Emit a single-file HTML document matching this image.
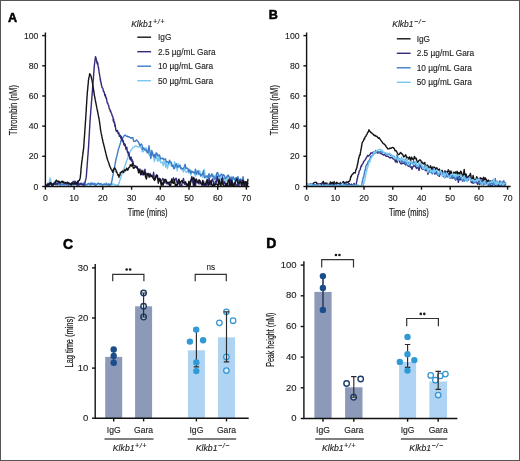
<!DOCTYPE html>
<html><head><meta charset="utf-8"><style>
html,body{margin:0;padding:0;background:#fff;}
svg{display:block;will-change:transform;}
text{font-family:"Liberation Sans",sans-serif;fill:#222;stroke:#222;stroke-width:0.12;}
.ax{stroke:#111;stroke-width:1.4;fill:none;}
.cv path{fill:none;stroke-width:1.4;stroke-linejoin:round;}
.cond{stroke:#1a1a1a;stroke-width:0.18;fill:#1a1a1a;}
</style></head><body>
<svg width="520" height="461" viewBox="0 0 520 461">
<rect x="0.5" y="0.5" width="519" height="460" fill="#fff" stroke="#555" stroke-width="1"/>

<text x="7.9" y="21.6" font-size="12.6" font-weight="bold" style="fill:#000;stroke:#000;stroke-width:0.5">A</text>
<text x="268.7" y="19.0" font-size="12.6" font-weight="bold" style="fill:#000;stroke:#000;stroke-width:0.5">B</text>
<text x="62.9" y="248.7" font-size="14" font-weight="bold" style="fill:#000;stroke:#000;stroke-width:0.5">C</text>
<text x="266.2" y="248.2" font-size="14" font-weight="bold" style="fill:#000;stroke:#000;stroke-width:0.5">D</text>
<g class="cv"><path d="M45.8,185.5 46.8,185.3 47.8,184.7 48.8,184.3 49.0,183.3 49.2,182.6 49.4,181.4 49.6,180.4 49.8,179.8 50.0,178.8 50.2,177.9 50.4,178.5 50.6,179.6 50.8,180.4 50.9,181.0 51.1,182.3 51.3,183.2 51.5,184.5 53.0,183.5 53.7,182.8 54.3,182.4 55.0,181.5 55.7,182.4 56.3,183.0 57.0,183.8 57.9,184.0 58.8,184.3 59.7,183.9 60.6,183.1 61.6,184.2 62.5,183.9 63.4,184.4 64.3,184.1 65.2,184.7 66.1,183.9 67.0,184.1 67.9,184.4 68.8,183.2 69.7,183.7 70.7,183.7 71.6,185.4 72.5,184.0 73.4,184.5 74.3,184.5 75.2,183.9 76.1,183.0 77.0,184.8 77.9,183.9 78.9,184.7 79.8,183.3 80.7,183.9 81.6,185.1 82.5,185.2 83.4,183.3 84.3,183.3 85.2,184.2 86.1,184.8 87.0,184.4 88.0,184.5 88.9,183.6 89.8,184.7 90.7,185.1 91.6,184.1 92.5,183.4 93.4,183.9 94.3,184.9 95.2,183.2 96.1,184.4 97.1,183.8 98.0,184.4 98.9,184.3 99.8,184.5 100.7,185.6 101.6,184.8 102.5,185.5 103.4,184.5 104.3,184.2 105.3,184.9 106.2,182.6 107.1,184.6 108.0,184.7 108.9,183.8 109.8,185.0 110.7,184.3 111.6,183.0 112.5,184.6 113.4,184.0 114.4,184.4 115.3,184.6 116.2,185.6 117.1,184.9 118.0,184.8 118.4,185.4 118.7,183.8 119.0,183.9 119.2,182.2 119.5,181.8 119.8,180.4 120.1,179.5 120.4,178.8 120.6,178.6 120.9,177.3 121.2,176.0 121.5,175.2 121.9,174.0 122.2,173.5 122.5,172.4 122.8,171.9 123.2,170.3 123.5,169.7 123.8,168.7 124.2,167.8 124.5,167.3 124.8,166.2 125.1,165.5 125.5,164.7 125.8,163.8 126.1,162.1 126.4,161.8 126.7,160.2 127.1,159.8 127.4,159.5 127.7,157.9 128.0,157.0 128.3,156.3 128.7,155.3 129.0,154.4 129.3,153.3 129.7,152.9 130.0,152.0 130.3,150.7 131.0,150.1 131.6,149.3 132.2,148.6 132.9,147.6 133.8,147.3 134.6,146.6 135.5,145.9 136.5,146.2 137.4,146.9 138.4,147.0 139.4,146.9 140.4,146.2 141.4,148.5 142.3,151.7 143.3,151.5 144.2,148.0 145.1,149.9 146.0,147.7 146.8,148.8 147.5,152.0 148.3,152.2 149.0,154.6 149.8,155.7 150.6,155.3 151.3,156.8 152.1,153.6 152.8,152.9 153.6,156.7 154.4,161.6 155.2,157.5 156.0,155.0 156.8,158.3 157.6,161.2 158.4,156.8 159.2,160.9 160.1,158.6 160.9,162.9 161.7,162.5 162.5,162.0 163.3,165.9 164.1,161.6 164.9,161.6 165.7,167.2 166.6,162.0 167.5,168.5 168.4,164.3 169.3,162.6 170.2,165.0 171.1,165.5 171.9,165.9 172.8,165.5 173.7,168.3 174.6,161.8 175.5,165.6 176.4,166.5 177.3,170.9 178.2,163.6 179.0,167.2 179.9,165.8 180.8,167.1 181.7,169.9 182.5,169.7 183.4,172.1 184.3,168.3 185.1,170.3 186.0,172.3 187.0,172.1 187.9,169.9 188.9,173.1 189.8,169.3 190.8,175.0 191.7,172.0 192.7,171.7 193.6,172.8 194.6,174.2 195.5,176.2 196.3,172.7 197.2,172.5 198.1,174.7 198.9,172.1 199.8,170.7 200.7,176.0 201.6,173.8 202.4,177.1 203.3,173.0 204.3,169.5 205.2,176.1 206.2,176.0 207.1,179.1 208.1,177.2 209.0,176.9 210.0,177.7 210.9,176.0 211.9,177.1 212.9,174.3 213.8,178.1 214.8,175.6 215.8,176.4 216.7,178.7 217.7,179.3 218.7,175.5 219.6,181.6 220.6,176.5 221.6,179.5 222.5,179.8 223.5,178.4 224.4,178.4 225.4,181.8 226.3,180.1 227.3,179.3 228.2,174.9 229.2,177.1 230.2,181.1 231.1,179.4 232.1,177.3 233.1,178.1 234.0,178.9 235.0,181.1 236.0,180.7 236.9,182.1 237.9,178.7 238.8,182.5 239.6,179.8 240.5,180.4 241.4,184.7 242.2,181.7 243.1,181.5 244.0,181.6 244.8,181.5 245.7,185.6" stroke="#78c8f0" />
<path d="M45.8,186.0 46.7,184.3 47.6,185.1 48.5,184.9 49.4,185.4 50.3,183.8 51.2,184.5 52.1,184.2 53.0,184.0 53.9,184.1 54.8,184.4 55.7,184.5 56.7,184.1 57.6,185.0 58.5,184.3 59.4,182.5 60.3,185.5 61.2,184.4 62.1,184.2 63.0,184.9 63.9,184.8 64.8,184.7 65.7,184.0 66.6,184.8 67.5,183.6 68.4,185.6 69.3,183.7 70.2,184.5 71.1,184.6 72.0,184.7 72.9,184.4 73.8,184.9 74.7,182.0 75.6,184.4 76.5,184.4 77.4,184.2 78.4,185.5 79.3,183.8 80.2,184.4 81.1,183.0 82.0,184.6 82.9,183.3 83.8,183.3 84.7,186.0 85.6,184.9 86.5,184.4 87.4,184.5 88.3,183.4 89.2,183.6 90.1,184.7 91.0,182.9 91.9,184.5 92.8,183.1 93.7,184.4 94.6,183.5 95.5,185.6 96.4,185.0 97.3,183.9 98.2,183.0 99.1,183.7 100.1,184.2 101.0,183.6 101.9,184.5 102.8,185.0 103.7,184.2 104.6,183.9 105.5,184.8 106.4,184.0 107.3,184.8 108.2,184.0 109.1,185.4 110.0,184.2 111.0,184.8 111.2,184.1 111.5,182.8 111.7,181.7 111.9,180.9 112.1,180.2 112.3,178.3 112.4,177.9 112.6,176.9 112.8,175.9 113.0,175.2 113.2,173.7 113.3,173.4 113.5,172.2 113.7,171.5 113.8,170.5 114.0,169.6 114.2,168.6 114.3,168.0 114.5,167.6 114.7,166.4 114.9,165.5 115.0,164.5 115.2,163.3 115.4,162.8 115.5,162.3 115.7,160.4 115.9,160.2 116.0,159.4 116.2,158.3 116.4,157.5 116.7,156.8 116.9,156.1 117.1,154.9 117.3,154.1 117.6,152.8 117.8,152.0 118.0,150.9 118.3,150.0 118.5,148.8 118.8,148.3 119.1,147.6 119.3,146.2 119.6,145.5 119.9,144.7 120.2,143.6 120.5,143.0 120.7,141.9 121.0,140.5 121.3,139.7 121.9,139.2 122.4,138.2 123.0,137.3 123.8,136.2 124.6,135.3 125.5,135.2 126.4,136.4 127.2,136.1 128.1,137.0 129.0,136.7 130.0,137.4 130.9,138.3 131.9,137.7 132.9,137.6 133.7,141.4 134.5,141.4 135.2,141.4 136.0,140.4 136.8,140.0 137.6,141.3 138.4,141.9 139.1,143.5 139.9,145.8 140.7,144.5 141.3,143.9 142.0,144.9 142.6,149.4 143.3,147.8 143.9,148.6 144.6,149.3 145.5,150.5 146.4,150.1 147.2,152.8 148.1,152.6 149.0,145.8 149.9,151.7 150.8,158.5 151.8,150.5 152.7,153.9 153.6,156.4 154.4,154.6 155.3,157.7 156.1,152.9 157.0,153.4 157.8,155.9 158.7,155.2 159.5,155.0 160.4,158.7 161.2,158.5 162.0,158.5 162.9,158.1 163.7,159.9 164.5,159.5 165.4,158.8 166.2,161.7 167.0,161.9 167.9,161.7 168.7,163.4 169.6,160.2 170.4,162.6 171.3,162.2 172.1,166.4 173.0,165.2 173.9,168.8 174.7,168.2 175.6,164.7 176.4,163.7 177.3,167.3 178.2,166.0 179.0,166.5 179.9,165.0 180.8,168.6 181.7,168.0 182.5,168.7 183.4,168.8 184.3,166.7 185.1,164.3 186.0,168.5 187.0,168.0 187.9,168.5 188.9,171.8 189.8,169.9 190.8,173.4 191.7,171.0 192.7,172.3 193.6,172.2 194.6,173.1 195.5,169.2 196.3,174.2 197.2,172.5 198.1,170.6 198.9,174.0 199.8,173.8 200.7,175.9 201.6,175.0 202.4,174.6 203.3,170.8 204.3,177.7 205.2,177.5 206.2,176.3 207.1,175.8 208.1,177.5 209.0,173.6 210.0,176.9 210.9,175.7 211.9,173.9 212.9,176.7 213.8,176.8 214.8,179.6 215.8,178.1 216.7,173.1 217.7,172.5 218.7,176.4 219.6,176.2 220.6,174.8 221.6,173.9 222.5,176.5 223.5,174.7 224.4,175.7 225.4,178.9 226.3,177.8 227.3,175.9 228.2,175.3 229.2,177.2 230.2,181.3 231.1,177.0 232.1,181.6 233.1,176.8 234.0,178.1 235.0,180.1 236.0,177.4 236.9,179.2 237.9,176.6 238.8,180.9 239.6,182.2 240.5,178.9 241.4,180.8 242.2,179.9 243.1,176.7 244.0,186.0 244.8,182.9 245.7,183.6" stroke="#3d7cc6" />
<path d="M45.8,185.6 46.9,186.0 48.0,183.3 49.0,185.6 50.0,183.7 51.0,183.5 52.0,186.0 53.0,183.6 54.0,183.2 55.0,183.9 55.9,184.5 56.8,183.1 57.7,183.9 58.6,182.0 59.5,182.8 60.5,182.8 61.4,181.6 62.3,181.5 63.2,181.4 64.1,183.2 65.0,183.4 65.9,183.2 66.8,183.8 67.7,182.0 68.6,183.6 69.5,184.1 70.5,184.8 71.4,182.8 72.3,183.4 73.2,181.3 74.1,183.3 75.0,181.1 76.0,182.2 77.0,185.4 78.0,181.1 79.0,185.0 80.0,184.4 81.0,183.6 82.0,184.6 82.9,184.5 83.9,185.0 84.8,183.5 85.0,182.5 85.2,181.5 85.4,180.5 85.7,179.7 85.9,178.6 86.1,177.9 86.3,176.5 86.4,175.7 86.4,174.8 86.5,173.7 86.6,173.4 86.6,171.9 86.7,171.3 86.8,170.3 86.8,169.7 86.9,168.3 87.0,167.8 87.1,166.6 87.1,165.8 87.2,164.8 87.3,164.1 87.3,162.9 87.4,162.1 87.5,161.3 87.5,160.6 87.6,159.0 87.7,158.7 87.7,157.7 87.8,156.6 87.9,155.8 88.0,154.8 88.0,154.2 88.1,153.0 88.2,152.0 88.2,151.1 88.3,150.2 88.4,149.3 88.4,148.3 88.5,147.8 88.6,146.3 88.6,145.1 88.7,144.7 88.7,143.8 88.8,143.0 88.8,142.0 88.9,141.1 88.9,140.2 89.0,139.4 89.0,138.3 89.1,137.4 89.1,136.8 89.2,135.7 89.2,134.5 89.3,134.1 89.4,132.9 89.4,131.8 89.5,130.8 89.5,130.1 89.6,129.0 89.6,128.1 89.7,127.1 89.7,126.3 89.8,125.7 89.8,124.5 89.9,123.4 89.9,122.9 90.0,121.8 90.0,121.0 90.1,120.2 90.2,119.1 90.2,118.2 90.3,117.3 90.4,116.2 90.5,115.6 90.5,114.8 90.6,113.7 90.7,112.8 90.7,111.9 90.8,110.9 90.9,110.0 90.9,109.1 91.0,108.2 91.1,107.3 91.2,106.3 91.2,105.7 91.3,104.7 91.4,103.6 91.4,102.6 91.5,102.0 91.6,101.3 91.7,100.1 91.7,99.2 91.8,98.3 91.9,97.6 91.9,96.5 92.0,95.8 92.1,94.8 92.1,94.0 92.2,93.0 92.3,92.1 92.4,91.0 92.4,90.2 92.5,89.4 92.6,88.6 92.6,87.6 92.7,86.6 92.8,85.9 92.8,85.0 92.9,84.0 93.0,83.0 93.1,82.1 93.1,81.4 93.2,80.5 93.3,79.3 93.4,78.6 93.4,77.5 93.5,76.5 93.6,75.8 93.7,74.8 93.7,73.6 93.8,72.8 93.9,71.9 94.0,70.8 94.0,69.9 94.1,69.1 94.2,67.8 94.2,67.1 94.3,66.3 94.4,65.3 94.5,64.0 94.6,63.3 94.8,62.2 94.9,61.4 95.0,60.5 95.1,59.4 95.3,58.3 95.4,57.4 95.5,56.6 95.8,57.2 96.0,58.5 96.2,59.4 96.5,59.8 96.8,62.3 97.0,61.8 97.2,63.9 97.5,62.3 97.8,63.0 98.0,65.8 98.1,66.5 98.3,66.8 98.4,67.9 98.6,67.6 98.7,69.3 98.9,69.9 99.0,71.3 99.2,72.9 99.3,73.3 99.5,74.4 99.6,74.6 99.8,75.7 99.9,76.9 100.1,77.5 100.2,79.4 100.4,79.0 100.5,81.5 100.7,80.8 101.0,82.9 101.2,82.8 101.4,85.2 101.6,85.2 101.8,86.3 102.1,87.5 102.3,87.6 102.7,88.3 103.0,88.7 103.4,91.5 103.8,91.3 104.2,92.3 104.5,93.6 104.9,95.8 105.3,94.5 105.6,96.5 105.8,97.0 106.1,98.4 106.4,97.9 106.7,99.6 106.9,101.2 107.2,102.5 107.5,103.4 107.7,102.8 108.0,104.2 108.3,105.0 108.6,105.1 108.8,106.0 109.1,108.2 109.5,108.8 109.9,109.4 110.2,111.2 110.6,110.7 111.0,112.6 111.4,113.2 111.8,114.0 112.1,115.7 112.5,116.1 112.9,117.2 113.1,118.1 113.3,121.3 113.6,119.0 113.8,121.8 114.0,122.1 114.2,121.7 114.5,124.2 114.7,122.7 114.9,126.5 115.1,124.6 115.3,125.9 115.6,128.0 115.8,129.6 116.0,130.6 116.5,131.4 117.0,130.6 117.5,130.4 118.0,133.3 118.4,133.8 118.9,132.8 119.4,136.4 119.9,136.1 120.3,135.3 120.8,138.2 121.2,136.5 121.6,138.0 122.1,140.7 122.5,138.8 122.9,141.9 123.4,140.8 123.8,144.6 124.2,143.4 124.7,145.6 125.1,144.1 125.5,146.6 126.0,149.3 126.4,149.4 126.8,147.1 127.3,151.8 127.7,152.6 128.1,151.8 128.4,155.3 128.8,152.7 129.2,155.1 129.6,157.7 129.9,158.9 130.3,159.8 130.7,157.3 131.2,157.2 131.6,161.1 132.0,159.5 132.5,162.1 132.9,161.4 133.6,165.3 134.2,165.6 134.8,165.9 135.5,165.8 136.2,166.6 137.0,166.5 137.8,168.7 138.5,169.1 139.2,170.3 140.0,169.1 140.8,174.7 141.7,171.6 142.5,174.6 143.3,174.9 144.2,170.6 145.0,169.3 145.8,176.3 146.7,173.1 147.5,174.7 148.3,174.4 149.2,175.8 150.0,173.4 150.9,176.1 151.8,175.7 152.7,177.1 153.6,172.3 154.5,179.6 155.5,178.9 156.4,174.7 157.3,177.3 158.2,179.3 159.1,181.0 160.0,180.0 160.9,183.3 161.8,180.5 162.7,178.5 163.6,179.4 164.4,182.7 165.3,180.0 166.2,183.4 167.1,184.0 168.0,183.3 168.9,184.3 169.8,181.7 170.7,182.1 171.7,180.5 172.6,180.5 173.5,177.8 174.4,180.7 175.3,179.3 176.2,178.3 177.1,182.8 178.1,183.7 179.0,181.5 179.9,186.0 180.8,185.2 181.7,185.5 182.6,180.9 183.5,178.5 184.5,184.2 185.4,183.6 186.3,184.8 187.2,183.9 188.1,186.0 189.0,182.0 189.9,184.8 190.9,180.4 191.8,176.5 192.7,181.8 193.6,186.0 194.5,178.4 195.4,186.0 196.3,181.2 197.3,182.1 198.2,183.3 199.1,183.9 200.0,180.6 200.9,183.7 201.8,184.6 202.7,185.6 203.6,181.2 204.5,186.0 205.4,186.0 206.3,186.0 207.2,179.6 208.2,183.8 209.1,178.1 210.0,184.4 210.9,184.9 211.8,180.1 212.7,178.9 213.6,183.9 214.5,185.1 215.4,181.1 216.3,182.6 217.2,176.3 218.1,181.4 219.0,183.8 219.9,183.8 220.8,186.0 221.7,180.2 222.6,177.1 223.5,184.7 224.5,181.7 225.4,184.2 226.3,185.4 227.2,185.1 228.1,186.0 229.0,186.0 229.9,178.8 230.8,183.3 231.7,186.0 232.6,182.3 233.5,186.0 234.4,183.3 235.3,182.3 236.2,186.0 237.1,186.0 238.0,182.8 238.9,186.0 239.8,179.8 240.8,181.4 241.7,186.0 242.6,183.6 243.5,180.5 244.4,184.7 245.3,184.4 246.2,186.0 247.1,186.0 248.0,182.7" stroke="#302b7a" />
<path d="M45.8,185.5 47.0,185.8 47.6,184.6 48.3,184.4 48.9,184.1 49.6,183.1 50.2,183.1 50.8,182.6 51.4,184.1 52.0,184.6 53.0,185.3 53.4,184.9 53.8,184.3 54.2,183.7 54.7,182.9 55.1,183.1 55.5,181.5 56.4,180.2 57.3,181.5 58.2,181.2 59.1,181.5 60.0,182.8 61.0,182.1 62.0,181.2 63.0,182.8 64.0,182.6 65.0,182.3 66.0,182.6 67.0,182.9 68.0,183.3 69.0,183.2 70.0,183.6 71.1,184.9 72.1,183.5 73.2,183.7 74.2,183.7 75.1,184.2 76.0,182.7 77.0,183.7 77.8,181.2 78.6,180.6 79.4,180.5 79.8,179.1 80.2,177.9 80.3,177.1 80.4,176.2 80.5,175.2 80.6,174.2 80.7,173.5 80.8,172.4 80.9,171.3 80.9,170.6 81.0,169.3 81.1,168.6 81.2,167.7 81.3,166.6 81.4,165.6 81.5,164.8 81.6,163.7 81.7,162.8 81.8,161.8 81.9,161.3 82.1,160.1 82.2,159.4 82.3,158.4 82.4,157.4 82.5,156.7 82.7,155.7 82.8,154.8 82.9,153.6 83.0,152.9 83.1,152.2 83.2,151.2 83.3,150.4 83.5,149.5 83.6,148.5 83.7,147.8 83.8,146.4 83.8,145.6 83.9,144.4 84.0,144.0 84.0,142.9 84.1,142.3 84.1,141.0 84.2,139.9 84.3,139.4 84.3,138.1 84.4,137.2 84.5,136.5 84.5,135.7 84.6,134.6 84.7,133.8 84.7,132.6 84.8,132.2 84.8,131.0 84.9,130.1 85.0,129.3 85.0,128.3 85.1,127.4 85.2,126.3 85.2,125.5 85.3,124.6 85.3,123.8 85.4,122.7 85.5,121.8 85.5,121.0 85.6,120.1 85.7,119.1 85.7,118.1 85.8,117.2 85.8,116.5 85.9,115.5 85.9,114.6 86.0,114.2 86.0,112.9 86.1,112.0 86.2,110.9 86.2,109.9 86.3,109.3 86.3,108.2 86.4,107.3 86.4,106.5 86.5,105.6 86.5,104.6 86.6,103.7 86.7,103.1 86.7,101.9 86.8,100.8 86.8,100.1 86.9,99.2 86.9,98.2 87.0,97.4 87.0,96.4 87.1,95.8 87.2,94.6 87.3,93.7 87.3,92.9 87.4,91.8 87.5,91.1 87.6,90.0 87.7,89.3 87.8,88.1 87.8,87.4 87.9,86.1 88.0,85.4 88.1,84.6 88.2,83.7 88.3,83.0 88.3,82.1 88.4,80.7 88.5,79.9 88.7,79.3 88.8,78.3 89.0,77.1 89.2,76.5 89.4,75.4 89.5,74.6 89.7,73.6 90.3,74.6 90.9,75.8 91.1,76.5 91.3,77.4 91.6,78.8 91.8,79.4 92.0,80.4 92.2,81.3 92.3,82.4 92.5,83.2 92.6,84.4 92.8,85.1 92.9,86.1 93.0,87.0 93.2,87.8 93.4,88.7 93.5,89.8 93.7,90.4 93.8,91.7 94.0,92.7 94.1,93.6 94.2,94.5 94.4,95.6 94.6,96.3 94.8,97.4 94.9,97.9 95.1,99.2 95.3,99.8 95.5,100.9 95.6,101.7 95.8,102.6 96.0,103.4 96.2,104.6 96.3,105.2 96.5,106.0 96.7,107.2 96.9,108.1 97.0,108.9 97.2,109.7 97.4,110.6 97.6,111.8 97.8,112.4 98.0,113.6 98.2,114.5 98.3,115.4 98.5,116.1 98.7,117.5 98.9,118.2 99.1,119.1 99.3,119.9 99.4,120.8 99.5,121.8 99.7,122.9 99.8,123.6 99.9,124.7 100.0,125.8 100.2,126.7 100.3,127.5 100.4,128.6 100.5,129.6 100.7,130.5 100.8,131.2 101.0,132.0 101.2,133.4 101.4,134.2 101.6,135.1 101.8,136.2 102.0,137.0 102.2,138.0 102.4,139.3 102.6,139.8 102.8,141.0 103.0,142.0 103.3,143.0 103.5,143.7 103.7,144.6 103.9,145.3 104.1,146.4 104.4,147.0 104.6,148.1 104.8,149.1 105.0,150.0 105.3,150.8 105.5,152.0 105.7,152.5 105.9,153.7 106.2,154.5 106.4,155.5 106.6,156.4 106.9,157.6 107.1,158.0 107.4,159.3 107.7,160.3 108.0,160.9 108.3,161.8 108.7,162.6 109.0,163.6 109.3,165.0 109.6,165.3 109.9,166.6 110.4,167.3 110.8,168.6 111.2,169.3 111.7,170.0 112.1,170.5 112.6,172.2 113.1,171.2 113.5,169.2 114.0,169.0 114.4,167.9 114.9,168.0 115.2,168.7 115.5,169.5 115.9,169.6 116.2,172.0 116.5,171.4 116.9,172.1 117.3,173.5 117.7,174.5 118.1,175.5 118.5,174.7 119.0,177.3 119.4,175.6 119.9,175.4 120.3,172.5 120.8,172.8 121.7,171.7 122.5,171.0 123.5,172.7 124.6,169.8 125.6,170.8 126.7,168.1 127.7,170.3 128.3,168.9 129.0,167.3 129.7,167.1 130.3,164.8 130.9,165.3 131.6,166.0 132.4,163.4 133.2,168.0 133.9,168.4 134.7,167.1 135.5,166.8 136.3,167.4 137.1,168.0 137.8,169.1 138.6,172.9 139.4,169.8 140.3,173.1 141.1,174.6 142.0,170.2 142.9,172.2 143.7,174.6 144.6,172.2 145.5,176.7 146.4,179.1 147.3,174.7 148.2,173.4 149.1,177.0 150.0,176.8 150.9,174.8 151.8,176.6 152.7,177.5 153.6,178.8 154.5,180.5 155.5,177.2 156.4,175.7 157.4,175.3 158.3,183.2 159.3,178.5 160.2,178.8 161.2,185.4 162.2,182.7 163.1,185.4 164.1,180.3 165.1,179.3 166.1,179.9 167.0,182.7 168.0,182.4 168.9,182.4 169.8,186.0 170.7,185.1 171.7,178.9 172.6,182.9 173.5,183.3 174.4,179.9 175.3,186.0 176.2,184.3 177.1,185.9 178.1,180.6 179.0,179.0 179.9,184.0 180.8,181.6 181.7,180.6 182.6,182.0 183.5,182.8 184.5,182.6 185.4,181.8 186.3,183.6 187.2,186.0 188.1,185.5 189.0,181.2 189.9,186.0 190.9,181.3 191.8,178.6 192.7,179.1 193.6,177.4 194.5,185.7 195.4,179.9 196.3,179.1 197.3,181.4 198.2,182.4 199.1,179.7 200.0,181.5 200.9,183.0 201.8,184.7 202.7,180.5 203.6,184.5 204.5,183.7 205.4,184.5 206.3,181.7 207.2,180.0 208.2,185.6 209.1,184.6 210.0,181.3 210.9,181.0 211.8,184.9 212.7,186.0 213.6,184.1 214.5,186.0 215.4,183.9 216.3,184.0 217.2,184.4 218.1,186.0 219.0,179.3 219.9,183.6 220.8,186.0 221.7,179.1 222.6,183.8 223.5,185.2 224.5,186.0 225.4,186.0 226.3,183.2 227.2,186.0 228.1,180.4 229.0,179.6 229.9,186.0 230.8,185.1 231.7,180.3 232.6,186.0 233.5,185.6 234.4,185.2 235.3,182.2 236.2,180.0 237.1,179.0 238.0,182.8 238.9,183.0 239.8,182.1 240.8,182.0 241.7,185.8 242.6,180.5 243.5,181.5 244.4,186.0 245.3,181.8 246.2,181.8 247.1,186.0 248.0,178.8" stroke="#141414" />
<path d="M307.0,183.9 307.9,186.0 308.8,184.7 309.7,184.7 310.6,184.2 311.5,183.9 312.4,184.2 313.3,183.4 314.2,182.6 315.1,182.4 316.0,182.2 316.9,183.7 317.8,184.1 318.7,185.3 319.6,184.0 320.5,183.8 321.4,184.2 322.3,183.4 323.2,181.3 324.1,184.6 325.0,182.9 325.9,183.6 326.9,183.1 327.8,186.0 328.7,184.6 329.6,183.8 330.5,182.0 331.4,184.3 332.3,182.3 333.2,184.6 334.1,181.6 335.0,183.2 335.9,184.3 336.8,182.3 337.7,183.4 338.6,183.4 339.5,184.3 340.4,182.6 341.3,184.0 342.2,185.5 343.1,181.5 344.0,182.2 344.9,183.7 345.8,182.4 346.6,181.9 347.4,182.6 348.2,181.8 349.0,181.3 349.8,180.8 350.1,179.7 350.5,178.1 350.8,176.4 351.1,176.9 351.5,175.3 351.8,174.9 352.6,174.4 353.5,172.9 354.4,172.7 355.2,173.0 355.5,171.7 355.9,169.7 356.2,169.5 356.5,168.8 356.7,168.0 357.0,167.1 357.2,165.7 357.4,164.7 357.7,164.2 357.9,162.1 358.0,162.4 358.2,161.1 358.4,159.7 358.5,158.8 358.9,158.2 359.2,156.4 359.6,155.0 360.0,155.2 360.2,154.8 360.3,153.2 360.5,152.3 360.7,151.4 360.8,150.1 361.0,149.8 361.1,149.1 361.3,147.8 361.5,147.3 361.6,145.5 361.8,145.2 362.0,143.8 362.1,143.0 362.3,142.5 362.8,141.6 363.2,141.1 363.7,140.2 364.1,138.6 364.6,138.9 365.1,136.8 365.5,136.6 366.0,136.0 366.4,135.0 366.9,134.4 367.3,133.4 367.7,132.2 368.2,132.2 368.6,131.0 369.0,129.8 369.6,131.0 370.2,131.6 370.9,132.5 371.5,132.8 372.4,133.8 373.2,134.2 374.1,135.6 375.0,135.2 375.9,136.4 376.8,136.2 377.6,137.2 378.5,138.2 379.1,137.7 379.6,138.8 380.2,139.1 380.7,140.1 381.3,140.9 382.1,142.0 382.9,143.2 383.7,143.9 384.3,144.0 384.9,145.0 385.4,144.9 386.0,146.6 386.6,147.2 387.1,147.7 387.7,148.9 388.9,148.9 390.0,148.1 391.2,148.2 392.3,147.5 393.5,147.6 393.9,148.3 394.4,148.6 394.8,150.1 395.2,150.8 396.2,150.7 397.2,152.7 398.2,154.7 399.2,154.3 400.0,153.2 400.7,152.4 401.5,153.9 402.3,153.9 403.0,155.3 403.8,156.9 404.8,155.9 405.7,154.8 406.7,158.3 407.7,157.2 408.6,159.0 409.6,156.9 410.6,161.0 411.5,157.1 412.5,158.9 413.5,159.9 414.4,156.4 415.4,158.7 416.3,158.3 417.2,162.4 418.2,161.8 419.1,160.4 420.0,159.9 420.8,160.4 421.6,162.9 422.4,162.2 423.2,164.0 424.0,163.4 424.8,162.5 425.6,166.8 426.4,165.8 427.2,164.9 428.0,165.7 428.8,168.0 429.6,167.8 430.5,165.8 431.4,169.1 432.3,167.0 433.2,168.6 434.1,166.9 435.0,167.8 435.8,169.7 436.7,167.7 437.6,169.4 438.5,170.1 439.4,169.1 440.3,172.8 441.2,171.6 442.1,170.3 443.0,172.6 443.9,173.4 444.7,173.4 445.6,171.1 446.5,172.9 447.4,172.4 448.3,169.8 449.2,171.3 450.0,175.9 450.9,170.9 451.8,173.4 452.7,175.8 453.6,172.2 454.5,173.0 455.4,171.9 456.2,174.3 457.1,171.3 458.0,174.6 458.9,172.4 459.8,174.7 460.7,171.2 461.5,172.5 462.4,176.3 463.3,175.9 464.2,169.4 465.1,178.0 466.0,174.0 466.9,177.4 467.8,177.9 468.7,176.0 469.6,175.9 470.4,173.4 471.3,178.0 472.2,180.8 473.1,175.4 474.0,180.0 474.9,179.6 475.8,180.2 476.7,176.7 477.6,178.6 478.5,179.5 479.3,182.3 480.2,177.7 481.1,178.6 482.0,178.3 482.9,181.5 483.8,177.2 484.6,179.9 485.5,178.0 486.4,180.0 487.3,182.2 488.2,180.1 489.1,182.6 490.0,180.7 490.9,181.7 491.8,181.8 492.7,180.7 493.5,183.4 494.4,184.1 495.3,181.7 496.2,184.6 497.1,183.8 498.0,183.1 498.9,184.5 499.9,185.8 500.9,185.9 501.9,186.0 502.8,185.3 503.8,185.4 504.8,182.5 505.8,184.4" stroke="#141414" />
<path d="M307.0,184.7 307.9,185.5 308.8,184.8 309.7,184.7 310.6,184.1 311.5,184.8 312.4,186.0 313.3,185.4 314.2,186.0 315.1,185.2 316.1,185.4 317.0,185.2 317.9,183.3 318.8,185.8 319.7,185.5 320.6,185.5 321.5,183.3 322.4,183.2 323.3,184.1 324.2,184.5 325.1,185.3 326.0,184.9 326.9,185.5 327.8,184.3 328.7,185.3 329.6,185.3 330.5,184.3 331.4,186.0 332.4,185.5 333.3,186.0 334.2,184.3 335.1,184.2 336.0,184.6 336.9,184.8 337.8,185.6 338.7,185.2 339.6,184.5 340.5,184.0 341.4,184.4 342.3,186.0 343.2,184.1 344.1,185.2 345.0,185.3 345.9,183.4 346.8,185.0 347.8,186.0 348.7,182.9 349.6,184.6 350.5,184.8 351.4,184.1 352.3,185.4 353.2,184.8 354.1,183.4 355.0,185.7 355.9,185.6 356.1,184.4 356.3,183.6 356.6,182.2 356.8,181.1 357.0,179.5 357.2,179.4 357.5,177.9 357.7,177.0 357.9,175.6 358.2,174.8 358.5,174.0 358.8,173.9 359.1,171.4 359.4,170.7 359.7,170.5 360.0,170.0 360.4,168.8 360.8,166.9 361.2,165.8 361.6,166.2 361.9,164.9 362.3,163.9 362.7,164.0 363.1,163.2 363.5,162.0 364.1,161.1 364.6,160.4 365.2,160.0 365.8,158.7 366.3,157.8 366.9,156.9 367.7,155.4 368.4,156.1 369.2,155.4 370.0,154.7 370.7,153.0 371.5,153.0 372.4,153.4 373.4,152.0 374.3,152.5 375.3,152.8 376.2,151.5 377.3,153.0 378.5,152.7 379.6,152.6 380.5,153.3 381.4,153.9 382.4,154.1 383.3,155.1 384.2,154.7 385.2,155.2 386.1,156.2 387.1,156.2 388.1,156.1 389.0,157.3 390.0,158.0 390.9,157.6 391.8,157.6 392.8,158.6 393.7,159.1 394.6,159.5 395.5,162.1 396.4,158.6 397.2,162.5 398.1,158.8 399.1,159.9 400.0,162.6 401.0,163.8 401.9,163.7 402.9,163.3 403.8,163.3 404.7,163.8 405.7,164.9 406.6,164.2 407.6,165.4 408.5,166.3 409.4,165.6 410.3,167.0 411.2,166.8 412.0,169.3 412.9,166.8 413.8,165.8 414.7,166.0 415.6,166.8 416.5,168.5 417.3,166.6 418.2,168.0 419.1,170.5 420.0,163.6 420.9,166.2 421.7,168.7 422.6,169.2 423.5,169.3 424.4,168.5 425.2,170.5 426.1,170.3 427.0,169.3 427.9,174.3 428.7,171.3 429.6,170.1 430.5,171.1 431.4,171.2 432.3,171.7 433.2,167.7 434.1,171.6 435.0,174.2 435.8,171.0 436.7,173.0 437.6,174.9 438.5,175.1 439.4,176.3 440.3,171.5 441.2,173.9 442.1,174.1 443.0,175.9 443.9,176.8 444.7,171.0 445.6,177.2 446.5,173.3 447.4,176.9 448.3,173.7 449.2,176.5 450.0,178.3 450.9,176.4 451.8,177.1 452.7,178.3 453.7,177.4 454.6,177.2 455.6,180.0 456.5,179.3 457.5,177.4 458.4,182.4 459.4,176.3 460.4,179.8 461.3,178.1 462.3,178.9 463.2,180.0 464.2,179.4 465.1,180.2 466.0,176.9 466.9,177.2 467.8,180.8 468.7,178.4 469.6,178.5 470.4,178.0 471.3,182.6 472.2,181.9 473.1,183.3 474.0,179.6 474.9,181.3 475.8,179.7 476.8,182.9 477.7,184.3 478.7,180.5 479.6,184.5 480.6,183.7 481.6,182.0 482.5,179.2 483.5,184.8 484.4,182.5 485.4,181.8 486.3,183.5 487.3,183.7 488.3,185.5 489.2,181.6 490.2,185.2 491.2,185.9 492.1,185.9 493.1,183.5 494.1,182.7 495.0,185.6 496.0,184.3 497.0,184.4 497.9,186.0 498.9,184.1 499.9,181.0 500.9,184.2 501.9,182.0 502.8,186.0 503.8,185.7 504.8,184.4 505.8,185.5" stroke="#302b7a" />
<path d="M307.0,185.9 307.9,183.9 308.8,184.8 309.7,185.6 310.6,186.0 311.5,185.5 312.4,184.0 313.4,185.8 314.3,184.4 315.2,186.0 316.1,185.3 317.0,186.0 317.9,185.4 318.8,184.6 319.7,184.2 320.6,185.2 321.5,185.9 322.4,186.0 323.4,185.8 324.3,184.9 325.2,186.0 326.1,184.2 327.0,186.0 327.9,184.9 328.8,186.0 329.7,186.0 330.6,185.9 331.5,184.6 332.4,186.0 333.3,185.9 334.2,185.1 335.2,185.0 336.1,186.0 337.0,185.2 337.9,186.0 338.8,186.0 339.7,184.2 340.6,186.0 341.5,186.0 342.4,185.0 343.3,184.7 344.2,184.5 345.1,186.0 346.1,183.3 347.0,186.0 347.9,185.7 348.8,185.0 349.7,185.1 350.6,185.2 351.5,185.4 352.4,186.0 353.3,184.8 354.2,186.0 355.1,186.0 356.1,185.4 357.0,186.0 357.9,185.1 358.8,185.6 359.7,186.0 360.6,186.0 361.5,185.6 361.7,184.6 361.9,183.7 362.1,182.6 362.3,181.2 362.6,181.7 362.8,179.5 363.0,178.5 363.2,177.5 363.4,177.2 363.6,177.5 363.8,176.6 364.1,174.7 364.3,173.5 364.5,172.4 364.7,171.1 364.9,171.0 365.1,169.7 365.4,169.9 365.6,167.9 365.8,166.6 366.2,165.4 366.6,164.6 367.0,165.0 367.4,164.0 367.8,162.4 368.2,161.4 368.7,161.5 369.1,160.4 369.5,159.9 369.9,158.9 370.3,157.7 370.7,156.4 371.3,156.7 371.9,155.9 372.5,155.3 373.1,154.9 373.8,154.2 374.4,152.8 375.0,152.6 375.6,150.5 376.6,151.9 377.6,151.5 378.6,152.0 379.6,152.0 380.6,151.3 381.5,152.0 382.5,153.0 383.4,152.4 384.4,153.0 385.3,153.0 386.2,154.0 387.1,154.2 387.9,154.0 388.8,154.0 389.7,154.0 390.6,155.9 391.4,155.6 392.3,155.8 393.3,156.3 394.2,156.5 395.2,158.4 396.2,158.7 397.1,154.7 398.1,158.5 399.0,159.0 399.9,158.7 400.8,159.8 401.7,162.5 402.6,160.8 403.5,162.5 404.4,162.6 405.3,159.1 406.2,164.5 407.1,162.4 408.0,161.9 409.0,163.9 409.9,166.3 410.8,161.9 411.7,162.4 412.6,164.2 413.6,161.2 414.5,162.5 415.4,164.6 416.3,165.9 417.2,165.8 418.2,166.6 419.1,167.2 420.0,165.1 420.9,165.7 421.7,166.2 422.6,166.6 423.5,169.2 424.4,169.2 425.2,165.2 426.1,169.5 427.0,167.5 427.9,167.9 428.7,172.0 429.6,172.4 430.5,172.5 431.4,172.0 432.3,174.0 433.2,169.7 434.1,173.0 435.0,170.9 435.8,171.3 436.7,170.0 437.6,175.1 438.5,175.7 439.4,174.6 440.3,172.7 441.2,174.1 442.1,172.4 443.0,173.8 443.9,176.7 444.7,177.0 445.6,175.8 446.5,176.1 447.4,174.9 448.3,175.9 449.2,175.2 450.0,176.6 450.9,174.6 451.8,178.0 452.7,175.8 453.6,176.8 454.5,176.3 455.4,179.7 456.2,178.7 457.1,175.6 458.0,175.5 458.9,178.6 459.8,177.9 460.7,177.4 461.5,178.4 462.4,181.4 463.3,178.2 464.2,181.3 465.1,177.8 466.0,178.4 466.9,179.7 467.8,179.1 468.7,178.5 469.6,177.5 470.4,179.1 471.3,179.2 472.2,180.1 473.1,182.3 474.0,181.5 474.9,182.9 475.8,181.2 476.8,181.9 477.7,182.4 478.7,182.7 479.6,183.4 480.6,180.5 481.6,182.6 482.5,182.3 483.5,184.4 484.4,183.8 485.4,181.2 486.3,183.3 487.3,184.0 488.2,182.9 489.1,185.3 490.0,183.5 490.9,180.7 491.8,183.9 492.7,184.9 493.5,182.0 494.4,185.0 495.3,178.4 496.2,186.0 497.1,181.3 498.0,183.2 498.9,183.6 499.9,181.7 500.9,185.1 501.9,182.9 502.8,182.2 503.8,180.5 504.8,186.0 505.8,186.0" stroke="#3d7cc6" />
<path d="M307.0,184.7 307.9,184.8 308.8,186.0 309.7,183.7 310.6,185.7 311.5,183.8 312.4,186.0 313.3,186.0 314.3,186.0 315.2,185.3 316.1,186.0 317.0,185.5 317.9,185.1 318.8,185.9 319.7,184.7 320.6,185.5 321.5,186.0 322.4,185.9 323.3,185.4 324.2,186.0 325.1,185.9 326.0,185.3 326.9,185.9 327.8,185.3 328.8,185.5 329.7,185.5 330.6,186.0 331.5,185.8 332.4,186.0 333.3,186.0 334.2,186.0 335.1,185.6 336.0,185.2 336.9,186.0 337.8,184.5 338.7,185.5 339.6,186.0 340.5,186.0 341.4,184.9 342.4,183.6 343.3,186.0 344.2,185.3 345.1,185.5 346.0,186.0 346.9,186.0 347.8,186.0 348.7,185.4 349.6,186.0 350.5,186.0 351.4,185.8 352.3,185.4 353.2,186.0 354.1,186.0 355.0,184.9 355.9,185.4 356.9,186.0 357.8,185.7 358.7,185.5 359.6,186.0 360.5,185.8 361.4,185.8 362.3,184.8 363.2,186.0 363.4,185.0 363.6,183.5 363.9,183.6 364.1,182.3 364.3,181.2 364.6,180.8 364.8,180.5 365.0,178.8 365.2,178.3 365.4,177.7 365.6,175.1 365.8,174.4 366.0,174.1 366.2,171.9 366.4,171.7 366.6,171.5 366.8,170.5 367.0,169.3 367.2,167.1 367.4,168.3 367.8,166.5 368.1,165.7 368.5,164.7 368.9,162.7 369.3,161.9 369.6,161.1 370.0,161.8 370.4,159.6 370.8,159.0 371.1,158.1 371.5,157.6 372.1,156.7 372.7,155.7 373.2,154.1 373.8,152.3 374.4,153.0 375.0,152.2 375.9,152.1 376.8,150.9 377.6,150.1 378.5,150.0 379.6,149.2 380.8,149.7 381.9,149.9 382.7,151.0 383.4,152.4 384.2,152.2 385.0,152.9 385.7,152.9 386.5,153.4 387.5,153.5 388.4,153.9 389.4,153.2 390.4,154.2 391.3,154.6 392.3,156.0 393.3,156.3 394.2,156.9 395.2,159.1 396.2,156.7 397.1,159.1 398.1,160.8 399.0,158.3 399.9,160.3 400.8,158.8 401.7,157.0 402.6,160.0 403.5,158.9 404.4,160.7 405.3,160.2 406.2,161.8 407.1,158.4 408.0,165.0 409.0,164.2 409.9,161.9 410.8,161.3 411.7,162.9 412.6,164.2 413.6,164.1 414.5,164.4 415.4,161.1 416.3,162.6 417.2,166.6 418.2,165.2 419.1,162.8 420.0,164.1 420.9,163.6 421.7,164.7 422.6,168.4 423.5,166.7 424.4,169.2 425.2,168.2 426.1,166.0 427.0,167.8 427.9,172.6 428.7,168.4 429.6,168.4 430.5,172.2 431.4,170.7 432.3,170.8 433.2,173.3 434.1,168.7 435.0,172.3 435.8,170.3 436.7,170.0 437.6,171.2 438.5,174.5 439.4,172.7 440.3,170.4 441.2,171.8 442.1,176.0 443.0,175.5 443.9,172.4 444.7,178.0 445.6,173.9 446.5,172.8 447.4,174.6 448.3,176.5 449.2,177.7 450.0,177.4 450.9,174.8 451.8,174.7 452.7,173.2 453.6,176.0 454.5,175.2 455.4,177.0 456.2,174.2 457.1,175.9 458.0,175.3 458.9,174.9 459.8,175.1 460.7,175.6 461.5,175.5 462.4,179.1 463.3,178.3 464.2,175.7 465.1,179.5 466.0,179.2 466.9,181.7 467.8,178.6 468.7,178.8 469.6,178.0 470.4,179.8 471.3,180.7 472.2,180.2 473.1,179.6 474.0,181.3 474.9,180.6 475.8,181.1 476.8,178.9 477.7,181.3 478.7,179.1 479.6,179.6 480.6,181.7 481.6,185.6 482.5,183.6 483.5,181.8 484.4,181.6 485.4,184.0 486.3,184.9 487.3,184.8 488.2,182.2 489.1,183.0 490.0,182.1 490.9,182.3 491.8,181.4 492.7,182.7 493.5,179.1 494.4,181.1 495.3,184.3 496.2,181.8 497.1,184.8 498.0,181.4 498.9,183.3 499.9,184.9 500.9,182.3 501.9,183.0 502.8,186.0 503.8,183.4 504.8,183.5 505.8,183.9" stroke="#78c8f0" /></g>
<path d="M45.4,32.5V186.5H249.4" class="ax"/>
<path d="M42.199999999999996,186.5H45.4" class="ax"/>
<text x="38.4" y="189.6" font-size="8.7" text-anchor="end" >0</text>
<path d="M42.199999999999996,156.3H45.4" class="ax"/>
<text x="38.4" y="159.42" font-size="8.7" text-anchor="end" >20</text>
<path d="M42.199999999999996,126.1H45.4" class="ax"/>
<text x="38.4" y="129.24" font-size="8.7" text-anchor="end" >40</text>
<path d="M42.199999999999996,96.0H45.4" class="ax"/>
<text x="38.4" y="99.06" font-size="8.7" text-anchor="end" >60</text>
<path d="M42.199999999999996,65.8H45.4" class="ax"/>
<text x="38.4" y="68.88" font-size="8.7" text-anchor="end" >80</text>
<path d="M42.199999999999996,35.6H45.4" class="ax"/>
<text x="38.4" y="38.699999999999996" font-size="8.7" text-anchor="end" >100</text>
<path d="M45.4,186.5V189.7" class="ax"/>
<text x="45.4" y="200.8" font-size="8.7" text-anchor="middle" >0</text>
<path d="M74.1,186.5V189.7" class="ax"/>
<text x="74.12" y="200.8" font-size="8.7" text-anchor="middle" >10</text>
<path d="M102.8,186.5V189.7" class="ax"/>
<text x="102.84" y="200.8" font-size="8.7" text-anchor="middle" >20</text>
<path d="M131.6,186.5V189.7" class="ax"/>
<text x="131.56" y="200.8" font-size="8.7" text-anchor="middle" >30</text>
<path d="M160.3,186.5V189.7" class="ax"/>
<text x="160.28" y="200.8" font-size="8.7" text-anchor="middle" >40</text>
<path d="M189.0,186.5V189.7" class="ax"/>
<text x="189.0" y="200.8" font-size="8.7" text-anchor="middle" >50</text>
<path d="M217.7,186.5V189.7" class="ax"/>
<text x="217.72" y="200.8" font-size="8.7" text-anchor="middle" >60</text>
<path d="M246.4,186.5V189.7" class="ax"/>
<text x="246.44" y="200.8" font-size="8.7" text-anchor="middle" >70</text>
<text transform="translate(147.7,215.6) scale(0.745,1)" font-size="10.2" text-anchor="middle" class="cond">Time (mins)</text>
<text transform="translate(17.2,110.1) rotate(-90) scale(0.755,1)" font-size="10.2" text-anchor="middle" class="cond">Thrombin (nM)</text>
<text x="131.2" y="26.5" font-size="8.5" font-style="italic">Klkb1<tspan font-size="7" dx="0.5" dy="-3.0" letter-spacing="0.7">+/+</tspan></text>
<path d="M137.3,37.2H151.10000000000002" stroke="#141414" stroke-width="1.4"/>
<text x="158.0" y="40.2" font-size="8.3" text-anchor="start" >IgG</text>
<path d="M137.3,51.7H151.10000000000002" stroke="#302b7a" stroke-width="1.4"/>
<text x="158.0" y="54.7" font-size="8.3" text-anchor="start" >2.5 µg/mL Gara</text>
<path d="M137.3,66.2H151.10000000000002" stroke="#3d7cc6" stroke-width="1.4"/>
<text x="158.0" y="69.2" font-size="8.3" text-anchor="start" >10 µg/mL Gara</text>
<path d="M137.3,80.7H151.10000000000002" stroke="#78c8f0" stroke-width="1.4"/>
<text x="158.0" y="83.7" font-size="8.3" text-anchor="start" >50 µg/mL Gara</text>
<path d="M306.6,32.5V186.5H510.6" class="ax"/>
<path d="M303.40000000000003,186.5H306.6" class="ax"/>
<text x="299.6" y="189.6" font-size="8.7" text-anchor="end" >0</text>
<path d="M303.40000000000003,156.3H306.6" class="ax"/>
<text x="299.6" y="159.42" font-size="8.7" text-anchor="end" >20</text>
<path d="M303.40000000000003,126.1H306.6" class="ax"/>
<text x="299.6" y="129.24" font-size="8.7" text-anchor="end" >40</text>
<path d="M303.40000000000003,96.0H306.6" class="ax"/>
<text x="299.6" y="99.06" font-size="8.7" text-anchor="end" >60</text>
<path d="M303.40000000000003,65.8H306.6" class="ax"/>
<text x="299.6" y="68.88" font-size="8.7" text-anchor="end" >80</text>
<path d="M303.40000000000003,35.6H306.6" class="ax"/>
<text x="299.6" y="38.699999999999996" font-size="8.7" text-anchor="end" >100</text>
<path d="M306.6,186.5V189.7" class="ax"/>
<text x="306.6" y="200.8" font-size="8.7" text-anchor="middle" >0</text>
<path d="M335.3,186.5V189.7" class="ax"/>
<text x="335.32000000000005" y="200.8" font-size="8.7" text-anchor="middle" >10</text>
<path d="M364.0,186.5V189.7" class="ax"/>
<text x="364.04" y="200.8" font-size="8.7" text-anchor="middle" >20</text>
<path d="M392.8,186.5V189.7" class="ax"/>
<text x="392.76" y="200.8" font-size="8.7" text-anchor="middle" >30</text>
<path d="M421.5,186.5V189.7" class="ax"/>
<text x="421.48" y="200.8" font-size="8.7" text-anchor="middle" >40</text>
<path d="M450.2,186.5V189.7" class="ax"/>
<text x="450.20000000000005" y="200.8" font-size="8.7" text-anchor="middle" >50</text>
<path d="M478.9,186.5V189.7" class="ax"/>
<text x="478.92" y="200.8" font-size="8.7" text-anchor="middle" >60</text>
<path d="M507.6,186.5V189.7" class="ax"/>
<text x="507.64" y="200.8" font-size="8.7" text-anchor="middle" >70</text>
<text transform="translate(408.90000000000003,215.6) scale(0.745,1)" font-size="10.2" text-anchor="middle" class="cond">Time (mins)</text>
<text transform="translate(278.40000000000003,110.1) rotate(-90) scale(0.755,1)" font-size="10.2" text-anchor="middle" class="cond">Thrombin (nM)</text>
<text x="392.3" y="26.5" font-size="8.5" font-style="italic">Klkb1<tspan font-size="7" dx="0.5" dy="-3.0" letter-spacing="0.7">−/−</tspan></text>
<path d="M396.8,38.8H410.6" stroke="#141414" stroke-width="1.4"/>
<text x="416.7" y="41.800000000000004" font-size="8.3" text-anchor="start" >IgG</text>
<path d="M396.8,53.3H410.6" stroke="#302b7a" stroke-width="1.4"/>
<text x="416.7" y="56.300000000000004" font-size="8.3" text-anchor="start" >2.5 µg/mL Gara</text>
<path d="M396.8,67.8H410.6" stroke="#3d7cc6" stroke-width="1.4"/>
<text x="416.7" y="70.80000000000001" font-size="8.3" text-anchor="start" >10 µg/mL Gara</text>
<path d="M396.8,82.3H410.6" stroke="#78c8f0" stroke-width="1.4"/>
<text x="416.7" y="85.30000000000001" font-size="8.3" text-anchor="start" >50 µg/mL Gara</text>
<rect x="105.2" y="356.9" width="17" height="61.30000000000001" fill="#8c99b9"/>
<rect x="135.1" y="306.3" width="17" height="111.89999999999998" fill="#8c99b9"/>
<rect x="187.9" y="350.3" width="17" height="67.89999999999998" fill="#aed3f3"/>
<rect x="218" y="337.3" width="17" height="80.89999999999998" fill="#aed3f3"/>
<path d="M95.2,263.9V418.2H248.7" class="ax"/>
<path d="M92.0,418.2H95.2" class="ax"/>
<text x="88.4" y="420.9" font-size="9.5" text-anchor="end" >0</text>
<path d="M92.0,368.1H95.2" class="ax"/>
<text x="88.4" y="370.79999999999995" font-size="9.5" text-anchor="end" >10</text>
<path d="M92.0,318.0H95.2" class="ax"/>
<text x="88.4" y="320.7" font-size="9.5" text-anchor="end" >20</text>
<path d="M92.0,267.9H95.2" class="ax"/>
<text x="88.4" y="270.59999999999997" font-size="9.5" text-anchor="end" >30</text>
<path d="M113.7,418.2V421.4" class="ax"/>
<path d="M143.6,418.2V421.4" class="ax"/>
<path d="M196.4,418.2V421.4" class="ax"/>
<path d="M226.5,418.2V421.4" class="ax"/>
<path d="M113.7,349.4V362.7M111.0,349.4H116.4M111.0,362.7H116.4" stroke="#2a2a2a" stroke-width="1.15" fill="none"/>
<circle cx="113.7" cy="349.4" r="3.2" fill="#1a4d8a"/>
<circle cx="113.7" cy="356" r="3.2" fill="#1a4d8a"/>
<circle cx="113.7" cy="362.7" r="3.2" fill="#1a4d8a"/>
<circle cx="143.6" cy="293" r="2.75" fill="#fff" fill-opacity="0.55" stroke="#1d3d69" stroke-width="1.4"/>
<circle cx="143.6" cy="306.2" r="2.75" fill="#fff" fill-opacity="0.55" stroke="#1d3d69" stroke-width="1.4"/>
<circle cx="143.6" cy="317" r="2.75" fill="#fff" fill-opacity="0.55" stroke="#1d3d69" stroke-width="1.4"/>
<path d="M143.6,293V317M140.9,293H146.3M140.9,317H146.3" stroke="#2a2a2a" stroke-width="1.15" fill="none"/>
<path d="M196.4,331.2V366.8M193.7,331.2H199.1M193.7,366.8H199.1" stroke="#2a2a2a" stroke-width="1.15" fill="none"/>
<circle cx="196.2" cy="329.6" r="3.2" fill="#2f9ad6"/>
<circle cx="189.9" cy="341.6" r="3.2" fill="#2f9ad6"/>
<circle cx="203.1" cy="340.2" r="3.2" fill="#2f9ad6"/>
<circle cx="196.3" cy="362.4" r="3.2" fill="#2f9ad6"/>
<circle cx="196.3" cy="371.1" r="3.2" fill="#2f9ad6"/>
<circle cx="226.4" cy="311.8" r="2.75" fill="#fff" fill-opacity="0.55" stroke="#3596d4" stroke-width="1.25"/>
<circle cx="219.4" cy="322.8" r="2.75" fill="#fff" fill-opacity="0.55" stroke="#3596d4" stroke-width="1.25"/>
<circle cx="233.1" cy="320.7" r="2.75" fill="#fff" fill-opacity="0.55" stroke="#3596d4" stroke-width="1.25"/>
<circle cx="226.4" cy="356.9" r="2.75" fill="#fff" fill-opacity="0.55" stroke="#3596d4" stroke-width="1.25"/>
<circle cx="226.4" cy="370.6" r="2.75" fill="#fff" fill-opacity="0.55" stroke="#3596d4" stroke-width="1.25"/>
<path d="M226.5,311.8V361.9M223.8,311.8H229.2M223.8,361.9H229.2" stroke="#2a2a2a" stroke-width="1.15" fill="none"/>
<path d="M112.7,281.2V274.4H143.9V281.2" stroke="#333" stroke-width="1.2" fill="none"/>
<circle cx="126.65" cy="269.5" r="1.3" fill="#1a1a1a"/><circle cx="130.15" cy="269.5" r="1.3" fill="#1a1a1a"/>
<path d="M195.2,281.2V274.4H226.3V281.2" stroke="#333" stroke-width="1.2" fill="none"/>
<text transform="translate(210.8,269.7) scale(0.85,1)" font-size="9.6" text-anchor="middle">ns</text>
<text x="113.7" y="433.3" font-size="8.6" text-anchor="middle" >IgG</text>
<text x="143.6" y="433.3" font-size="8.6" text-anchor="middle" >Gara</text>
<text x="196.4" y="433.3" font-size="8.6" text-anchor="middle" >IgG</text>
<text x="226.5" y="433.3" font-size="8.6" text-anchor="middle" >Gara</text>
<path d="M104.5,439H153.5" stroke="#555" stroke-width="1.3"/>
<text x="130.0" y="450.6" font-size="8.7" font-style="italic" text-anchor="middle">Klkb1<tspan font-size="7" dx="0.4" dy="-2.6" letter-spacing="0.7">+/+</tspan></text>
<path d="M187.7,439H236.2" stroke="#555" stroke-width="1.3"/>
<text x="212.95" y="450.6" font-size="8.7" font-style="italic" text-anchor="middle">Klkb1<tspan font-size="7" dx="0.4" dy="-2.6" letter-spacing="0.7">−/−</tspan></text>
<text transform="translate(72.5,341.9) rotate(-90) scale(0.727,1)" font-size="10.2" text-anchor="middle" class="cond">Lag time (mins)</text>
<rect x="314.4" y="291.9" width="17.2" height="126.60000000000002" fill="#8c99b9"/>
<rect x="345.1" y="387.3" width="17.4" height="31.19999999999999" fill="#8c99b9"/>
<rect x="399.1" y="361.9" width="17" height="56.60000000000002" fill="#aed3f3"/>
<rect x="429.4" y="381.5" width="17.6" height="37.0" fill="#aed3f3"/>
<path d="M303.9,261.2V418.5H457.4" class="ax"/>
<path d="M300.7,418.5H303.9" class="ax"/>
<text x="296.59999999999997" y="421.2" font-size="9.5" text-anchor="end" >0</text>
<path d="M300.7,387.8H303.9" class="ax"/>
<text x="296.59999999999997" y="390.52" font-size="9.5" text-anchor="end" >20</text>
<path d="M300.7,357.1H303.9" class="ax"/>
<text x="296.59999999999997" y="359.84" font-size="9.5" text-anchor="end" >40</text>
<path d="M300.7,326.5H303.9" class="ax"/>
<text x="296.59999999999997" y="329.16" font-size="9.5" text-anchor="end" >60</text>
<path d="M300.7,295.8H303.9" class="ax"/>
<text x="296.59999999999997" y="298.47999999999996" font-size="9.5" text-anchor="end" >80</text>
<path d="M300.7,265.1H303.9" class="ax"/>
<text x="296.59999999999997" y="267.8" font-size="9.5" text-anchor="end" >100</text>
<path d="M323.0,418.5V421.7" class="ax"/>
<path d="M353.8,418.5V421.7" class="ax"/>
<path d="M407.6,418.5V421.7" class="ax"/>
<path d="M438.2,418.5V421.7" class="ax"/>
<path d="M323.0,276.1V309.9M320.3,276.1H325.7M320.3,309.9H325.7" stroke="#34466a" stroke-width="1.7" fill="none"/>
<circle cx="322.9" cy="276.1" r="3.2" fill="#1a4d8a"/>
<circle cx="322.9" cy="287.9" r="3.2" fill="#1a4d8a"/>
<circle cx="322.9" cy="309.9" r="3.2" fill="#1a4d8a"/>
<circle cx="346.6" cy="383.5" r="2.75" fill="#fff" fill-opacity="0.55" stroke="#1d3d69" stroke-width="1.4"/>
<circle cx="360.7" cy="379" r="2.75" fill="#fff" fill-opacity="0.55" stroke="#1d3d69" stroke-width="1.4"/>
<circle cx="353.6" cy="397.2" r="2.75" fill="#fff" fill-opacity="0.55" stroke="#1d3d69" stroke-width="1.4"/>
<path d="M353.8,376.6V397.2M351.1,376.6H356.5M351.1,397.2H356.5" stroke="#2a2a2a" stroke-width="1.15" fill="none"/>
<path d="M407.6,344.5V367.3M404.9,344.5H410.3M404.9,367.3H410.3" stroke="#2a2a2a" stroke-width="1.15" fill="none"/>
<circle cx="407.5" cy="336.9" r="3.2" fill="#2f9ad6"/>
<circle cx="407.5" cy="354.3" r="3.2" fill="#2f9ad6"/>
<circle cx="399.8" cy="361.9" r="3.2" fill="#2f9ad6"/>
<circle cx="414.3" cy="360.1" r="3.2" fill="#2f9ad6"/>
<circle cx="407.5" cy="370.6" r="3.2" fill="#2f9ad6"/>
<circle cx="430.7" cy="375.4" r="2.75" fill="#fff" fill-opacity="0.55" stroke="#3596d4" stroke-width="1.25"/>
<circle cx="435.4" cy="380.2" r="2.75" fill="#fff" fill-opacity="0.55" stroke="#3596d4" stroke-width="1.25"/>
<circle cx="440.2" cy="375.9" r="2.75" fill="#fff" fill-opacity="0.55" stroke="#3596d4" stroke-width="1.25"/>
<circle cx="445.4" cy="374.1" r="2.75" fill="#fff" fill-opacity="0.55" stroke="#3596d4" stroke-width="1.25"/>
<circle cx="438.2" cy="395" r="2.75" fill="#fff" fill-opacity="0.55" stroke="#3596d4" stroke-width="1.25"/>
<path d="M438.2,371.3V389.3M435.5,371.3H440.9M435.5,389.3H440.9" stroke="#2a2a2a" stroke-width="1.15" fill="none"/>
<path d="M321.7,267.4V259.7H353.5V267.4" stroke="#333" stroke-width="1.2" fill="none"/>
<circle cx="335.95" cy="255.0" r="1.3" fill="#1a1a1a"/><circle cx="339.45" cy="255.0" r="1.3" fill="#1a1a1a"/>
<path d="M406.7,326.2V318.5H438.4V326.2" stroke="#333" stroke-width="1.2" fill="none"/>
<circle cx="420.80" cy="313.9" r="1.3" fill="#1a1a1a"/><circle cx="424.30" cy="313.9" r="1.3" fill="#1a1a1a"/>
<text x="323.0" y="433.3" font-size="8.6" text-anchor="middle" >IgG</text>
<text x="353.8" y="433.3" font-size="8.6" text-anchor="middle" >Gara</text>
<text x="407.6" y="433.3" font-size="8.6" text-anchor="middle" >IgG</text>
<text x="438.2" y="433.3" font-size="8.6" text-anchor="middle" >Gara</text>
<path d="M315.2,439H364" stroke="#555" stroke-width="1.3"/>
<text x="339.1" y="450.6" font-size="8.7" font-style="italic" text-anchor="middle">Klkb1<tspan font-size="7" dx="0.4" dy="-2.6" letter-spacing="0.7">+/+</tspan></text>
<path d="M400.9,439H447.2" stroke="#555" stroke-width="1.3"/>
<text x="426.54999999999995" y="450.6" font-size="8.7" font-style="italic" text-anchor="middle">Klkb1<tspan font-size="7" dx="0.4" dy="-2.6" letter-spacing="0.7">−/−</tspan></text>
<text transform="translate(273.7,339.7) rotate(-90) scale(0.7,1)" font-size="10.2" text-anchor="middle" class="cond">Peak height (nM)</text>
</svg></body></html>
